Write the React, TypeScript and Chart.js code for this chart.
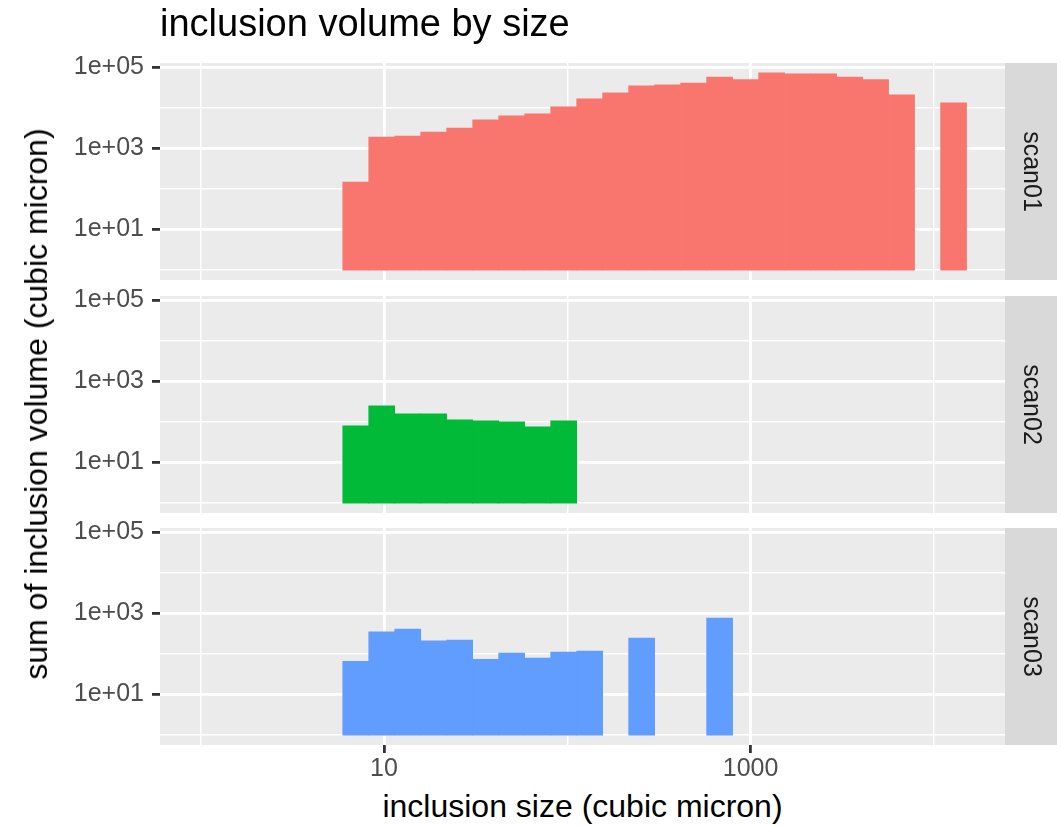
import React, { useEffect, useRef } from 'react';
import { Chart, registerables } from 'chart.js';

Chart.register(...registerables);

// ---------- data ----------
// histogram bin centres (cubic micron), equal width in log10 space
const binCenters = [
  7.014, 9.722, 13.48, 18.68, 25.89, 35.89, 49.75, 68.96, 95.58, 132.5, 183.6, 254.6,
  352.8, 489.1, 677.9, 939.7, 1302.5, 1805.4, 2502.5, 3468.8, 4808.2, 6664.7, 9238.1, 12805,
];

// summed inclusion volume per bin (cubic micron); null = empty bin
const scan01 = [
  147, 1900, 2000, 2500, 3150, 5000, 6300, 7100, 10500, 16500, 23300, 34500,
  36500, 40500, 57000, 49000, 72000, 68000, 68000, 57000, 49000, 20700, null, 13200,
];
const scan02 = [
  80, 250, 158, 158, 112, 107, 101, 76, 107, null, null, null,
  null, null, null, null, null, null, null, null, null, null, null, null,
];
const scan03 = [
  66, 350, 410, 210, 220, 74, 105, 79, 111, 117, null, 245,
  null, null, 760, null, null, null, null, null, null, null, null, null,
];

const facetLabels = ['scan01', 'scan02', 'scan03'];
const facetSeries = [scan01, scan02, scan03];
const facetColors = ['#F8766D', '#00BA38', '#619CFF'];

const barBase = 1;

const xTickValues = [1, 10, 100, 1000, 10000];
const xTickLabels = ['', '10', '', '1000', ''];
const yTickValues = [1, 10, 100, 1000, 10000, 100000];
const yTickLabels = ['', '1e+01', '', '1e+03', '', '1e+05'];

const xLimits = [0.618, 24430];
const yLimits = [0.5715, 125900];

// ---------- layout ----------
const FONT = '"Liberation Sans", Arial, Helvetica, sans-serif';
const W = 1063;
const PANEL_LEFT = 160;
const PANEL_RIGHT = 1005;
const STRIP_W = 52;
const PANEL_TOPS = [63, 296, 528];
const PANEL_H = 217;
const PAD_TOP = 32;
const X_AXIS_H = 40;
const PAD_BOTTOM = 32;

const panelPlugin = {
  id: 'panelDeco',
  beforeDraw(chart: any, _args: any, opts: any) {
    const { ctx, chartArea: a } = chart;
    ctx.save();
    ctx.fillStyle = '#EBEBEB';
    ctx.fillRect(a.left, a.top, a.right - a.left, a.bottom - a.top);
    ctx.fillStyle = '#D9D9D9';
    ctx.fillRect(a.right, a.top, opts.stripWidth, a.bottom - a.top);
    ctx.translate(a.right + opts.stripWidth / 2, (a.top + a.bottom) / 2);
    ctx.rotate(Math.PI / 2);
    ctx.fillStyle = '#1A1A1A';
    ctx.font = `25px ${FONT}`;
    ctx.textAlign = 'center';
    ctx.textBaseline = 'middle';
    ctx.fillText(opts.label, 0, 0);
    ctx.restore();
  },
};

function Panel({ index, showX }: { index: number; showX: boolean }) {
  const ref = useRef<HTMLCanvasElement | null>(null);
  const top = PANEL_TOPS[index] - PAD_TOP;
  const height = PAD_TOP + PANEL_H + (showX ? X_AXIS_H : PAD_BOTTOM);

  useEffect(() => {
    if (!ref.current) return;
    const values = facetSeries[index];
    const pts: any[] = [];
    binCenters.forEach((x, i) => {
      const v = values[i];
      if (v !== null && v !== undefined) pts.push({ x, y: [barBase, v] });
    });
    const xMajor = (v: number) => xTickLabels[xTickValues.indexOf(v)] !== '';
    const yMajor = (v: number) => yTickLabels[yTickValues.indexOf(v)] !== '';

    const chart = new Chart(ref.current, {
      type: 'bar',
      data: {
        datasets: [
          {
            label: facetLabels[index],
            data: pts,
            backgroundColor: facetColors[index],
            borderWidth: 0,
            barPercentage: 1,
            categoryPercentage: 1,
          },
        ],
      },
      options: {
        animation: false,
        responsive: false,
        events: [],
        layout: {
          padding: {
            left: 0,
            right: W - PANEL_RIGHT,
            top: PAD_TOP,
            bottom: showX ? 0 : PAD_BOTTOM,
          },
        },
        plugins: {
          legend: { display: false },
          tooltip: { enabled: false },
          panelDeco: { label: facetLabels[index], stripWidth: STRIP_W },
        } as any,
        scales: {
          x: {
            type: 'logarithmic',
            min: xLimits[0],
            max: xLimits[1],
            offset: false,
            beginAtZero: false,
            border: { display: false },
            grid: {
              offset: false,
              color: '#FFFFFF',
              lineWidth: (c: any) => (c.tick && xMajor(c.tick.value) ? 2.8 : 1.4),
              drawTicks: showX,
              tickLength: 8,
              tickWidth: 2.8,
              tickColor: (c: any) =>
                c.tick && xMajor(c.tick.value) ? '#333333' : 'rgba(0,0,0,0)',
            },
            ticks: {
              display: showX,
              autoSkip: false,
              maxRotation: 0,
              padding: 1,
              color: '#4D4D4D',
              font: { family: FONT, size: 25 },
              callback: (_v: any, i: number) => xTickLabels[i],
            },
            afterBuildTicks: (s: any) => {
              s.ticks = xTickValues.map((v) => ({ value: v }));
            },
            afterFit: (s: any) => {
              s.height = showX ? X_AXIS_H : 0;
            },
          } as any,
          y: {
            type: 'logarithmic',
            min: yLimits[0],
            max: yLimits[1],
            beginAtZero: false,
            border: { display: false },
            grid: {
              color: '#FFFFFF',
              lineWidth: (c: any) => (c.tick && yMajor(c.tick.value) ? 2.8 : 1.4),
              drawTicks: true,
              tickLength: 8,
              tickWidth: 2.8,
              tickColor: (c: any) =>
                c.tick && yMajor(c.tick.value) ? '#333333' : 'rgba(0,0,0,0)',
            },
            ticks: {
              autoSkip: false,
              padding: 8,
              color: '#4D4D4D',
              font: { family: FONT, size: 25 },
              callback: (_v: any, i: number) => yTickLabels[i],
            },
            afterBuildTicks: (s: any) => {
              s.ticks = yTickValues.map((v) => ({ value: v }));
            },
            afterFit: (s: any) => {
              s.width = PANEL_LEFT;
            },
          } as any,
        },
      },
      plugins: [panelPlugin],
    });
    return () => chart.destroy();
  }, [index, showX]);

  return (
    <canvas
      ref={ref}
      width={W}
      height={height}
      style={{ position: 'absolute', left: 0, top, width: W, height }}
    />
  );
}

export default function App() {
  return (
    <div
      style={{
        position: 'absolute',
        left: 0,
        top: 0,
        width: W,
        height: 826,
        background: '#FFFFFF',
        overflow: 'hidden',
        fontFamily: FONT,
        color: '#000000',
      }}
    >
      <Panel index={0} showX={false} />
      <Panel index={1} showX={false} />
      <Panel index={2} showX={true} />
      <div
        style={{
          position: 'absolute',
          left: PANEL_LEFT,
          top: 4,
          fontSize: 38,
          lineHeight: '38px',
          whiteSpace: 'nowrap',
        }}
      >
        inclusion volume by size
      </div>
      <div
        style={{
          position: 'absolute',
          left: 36,
          top: 404,
          transform: 'translate(-50%, -50%) rotate(-90deg)',
          fontSize: 32,
          lineHeight: '32px',
          whiteSpace: 'nowrap',
        }}
      >
        sum of inclusion volume (cubic micron)
      </div>
      <div
        style={{
          position: 'absolute',
          left: (PANEL_LEFT + PANEL_RIGHT) / 2,
          top: 790,
          transform: 'translateX(-50%)',
          fontSize: 32,
          lineHeight: '32px',
          whiteSpace: 'nowrap',
        }}
      >
        inclusion size (cubic micron)
      </div>
    </div>
  );
}
